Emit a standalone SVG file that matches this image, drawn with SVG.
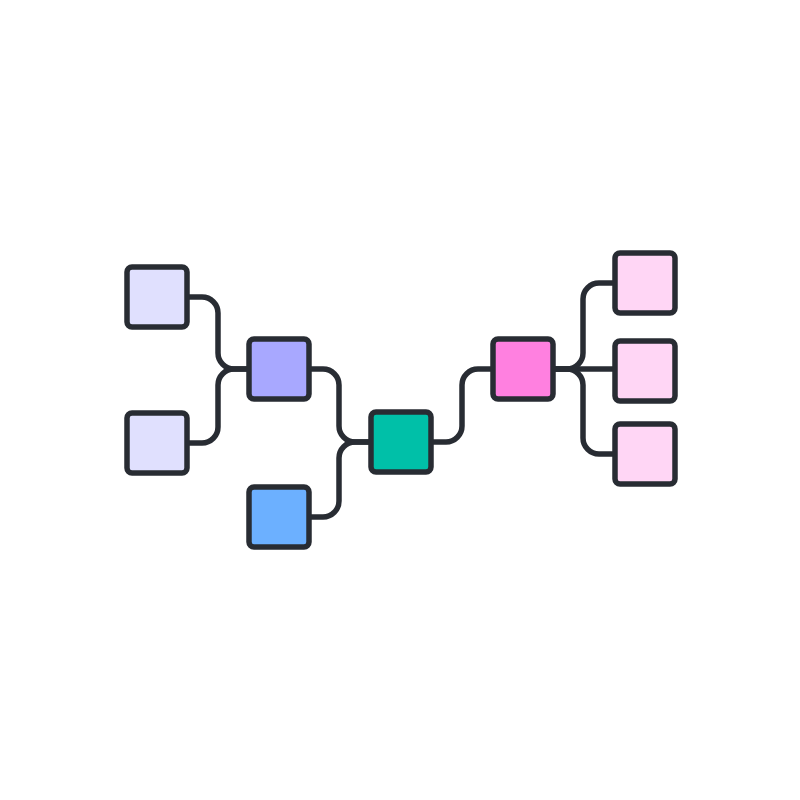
<svg xmlns="http://www.w3.org/2000/svg" width="800" height="800" viewBox="0 0 800 800">
<style>
.n{stroke:#282c33;stroke-width:5.5}
.c{fill:none;stroke:#282c33;stroke-width:5.5;stroke-linecap:round}
</style>
<rect width="800" height="800" fill="#ffffff"/>
<g id="connectors">
<path class="c" d="M187,297 H202 A16 16 0 0 1 218 313 V353 A16 16 0 0 0 234 369 H249"/>
<path class="c" d="M187,443 H202 A16 16 0 0 0 218 427 V385 A16 16 0 0 1 234 369 H249"/>
<path class="c" d="M309,369 H323 A16 16 0 0 1 339 385 V426 A16 16 0 0 0 355 442 H371"/>
<path class="c" d="M309,517 H323 A16 16 0 0 0 339 501 V458 A16 16 0 0 1 355 442 H371"/>
<path class="c" d="M431,442 H446 A16 16 0 0 0 462 426 V385 A16 16 0 0 1 478 369 H493"/>
<path class="c" d="M553,369 H615"/>
<path class="c" d="M553,369 H567 A16 16 0 0 0 583 353 V299 A16 16 0 0 1 599 283 H615"/>
<path class="c" d="M553,369 H567 A16 16 0 0 1 583 385 V438 A16 16 0 0 0 599 454 H615"/>
</g>
<g id="n1"><rect class="n" x="127" y="267" width="60" height="60" rx="5" fill="#e0e0fe"/></g>
<g id="n2"><rect class="n" x="127" y="413" width="60" height="60" rx="5" fill="#e0e0fe"/></g>
<g id="n3"><rect class="n" x="249" y="339" width="60" height="60" rx="5" fill="#a8a8ff"/></g>
<g id="n4"><rect class="n" x="249" y="487" width="60" height="60" rx="5" fill="#6cb0ff"/></g>
<g id="n5"><rect class="n" x="371" y="412" width="60" height="60" rx="5" fill="#00c0a8"/></g>
<g id="n6"><rect class="n" x="493" y="339" width="60" height="60" rx="5" fill="#ff80e0"/></g>
<g id="n7"><rect class="n" x="615" y="253" width="60" height="60" rx="5" fill="#ffd6f5"/></g>
<g id="n8"><rect class="n" x="615" y="341" width="60" height="60" rx="5" fill="#ffd6f5"/></g>
<g id="n9"><rect class="n" x="615" y="424" width="60" height="60" rx="5" fill="#ffd6f5"/></g>
</svg>
